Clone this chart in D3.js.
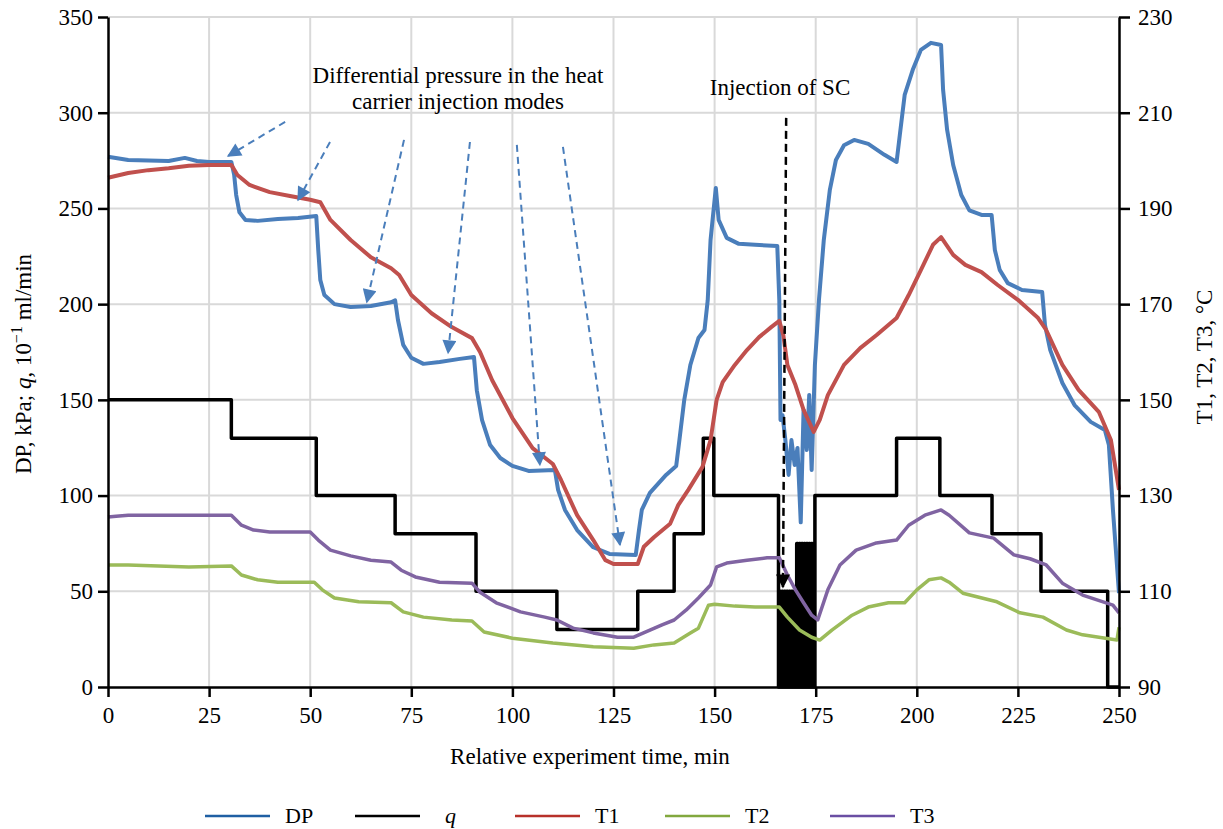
<!DOCTYPE html>
<html>
<head>
<meta charset="utf-8">
<script src="https://cdn.jsdelivr.net/npm/d3@7"></script>
<style>
  body { margin: 0; background: #fff; }
  svg { font-family: "Liberation Serif", "Times New Roman", serif; }
</style>
</head>
<body>
<div id="graph"></div>
<script>
// DP, kPa  [time min, value]
const dp = [
  [0,277],[5,275.3],[10,275],[15,274.8],[19,276.4],[22,274.8],[25,274.3],[30.5,274.3],
  [31.2,267.5],[31.7,257],[32.5,248],[34,244],[37,243.5],[42,244.5],[47,245],[51.5,246],
  [52,228],[52.5,212.6],[53.5,204.8],[56,200],[60,198.5],[65,199],[70,201],[71,202],
  [71.7,191.7],[73,178.7],[75,172],[78,168.8],[82,169.8],[87,171.4],[90.5,172.4],
  [91.2,155],[92.5,139.4],[94.5,126.4],[97,119.6],[100,115.5],[104,112.9],[110.5,113.4],
  [111.3,103],[113,92.5],[116,82],[120,73],[124,69.5],[130.5,69],
  [131.3,82],[132,92.5],[134,101.4],[138,110.8],[140.5,115.5],[141.3,129],[142.5,150],
  [144,168.2],[146,182.3],[147.5,186.5],[148.3,202],[149,233.5],[150.3,260.7],[151,244],
  [153,234.6],[156,231.5],[160,231],[165.5,230.4],[166,202],[166.3,139.5],[166.8,142],
  [167.5,129],[168.3,110.8],[169,129],[169.8,116],[170.5,124.9],[171.3,86],[172,144.7],
  [172.8,123.8],[173.4,152.6],[174,113.4],[174.8,168.2],[175.8,202],[177,233.5],
  [178.5,259.7],[180,275.3],[182,283],[184.5,285.8],[188,283.7],[192,278],[195,274.3],
  [195.8,288.4],[197,309.3],[199,322.4],[201,332.8],[203.5,336.5],[206,335.4],
  [206.5,312],[207.5,291],[209,272.7],[211,257],[213,249],[216,246.6],[218.5,246.6],
  [219.3,228.3],[220.5,217.9],[222.5,211],[226,207.4],[231,206.4],[231.7,189],[233,176],
  [236,158.8],[239,147.3],[243,138.5],[246.5,134.3],[247.5,126.4],[248.5,92.5],[250,49]
];

// q, 10^-1 ml/min (step)
const q = [
  [0,150],[30.5,130],[51.5,100],[71,80],[91,50],[111,30],[131,50],[140,80],[147.2,130],
  [149.8,100],[165.8,0],[166,50],[166.3,0],[166.6,50],[166.9,0],[167.2,50],[167.5,0],
  [167.8,50],[168.1,0],[168.4,50],[168.7,0],[169,50],[169.3,0],[169.6,50],[170,0],
  [170.3,75],[170.6,0],[170.9,75],[171.2,0],[171.5,75],[171.8,0],[172.1,75],[172.4,0],
  [172.7,75],[173,0],[173.3,75],[173.6,0],[173.9,75],[174.2,0],[174.8,100],[195,130],
  [205.7,100],[218.6,80],[230.7,50],[247.2,0],[250,0]
];

// T1, °C
const t1 = [
  [0,196.4],[5,197.4],[10,198],[15,198.4],[20,198.9],[25,199.1],[30.5,199.1],[32,197],
  [35,194.9],[40,193.4],[45,192.6],[50,191.8],[52.5,191.3],[55,187.6],[60,183.4],
  [65,179.8],[70,177.5],[72,176.1],[75,171.9],[80,168.1],[85,165.2],[90,162.9],[92,160],
  [95,154.1],[100,146.2],[105,139.9],[110,136.6],[112,133.3],[116,125.9],[120,120.7],
  [123,116.5],[125,115.7],[131,115.7],[132.5,119.3],[135,121.3],[139,124.1],[141,128],
  [143.5,131.2],[147,136],[149,141.6],[150.5,150],[152,153.7],[155,157.3],[158,160.4],
  [161,163.1],[164,165.2],[166,166.5],[167,163.5],[168,157.3],[170,153.1],[172,147.9],
  [174.5,143.3],[176,145.8],[178,151],[182,157.3],[186,160.8],[190,163.5],[195,167.1],
  [198,171.9],[201,177.1],[204,182.4],[206,184],[209,180.3],[212,178.2],[216,176.7],
  [220,174],[225,170.9],[230,167.1],[232,164.6],[236,157.3],[240,152.1],[245,147.5],
  [248,141.6],[250,131.2]
];

// T2, °C
const t2 = [
  [0,115.5],[5,115.5],[20,115.1],[30.5,115.3],[33,113.4],[37,112.4],[42,111.9],[51,111.9],
  [53,110.3],[56,108.6],[62,107.8],[70,107.6],[73,105.7],[78,104.6],[85,104],[90,103.8],
  [93,101.5],[100,100.2],[110,99.2],[120,98.4],[130,98.1],[135,98.8],[140,99.2],
  [144,101.3],[146,102.3],[148.5,107.1],[150,107.3],[155,106.9],[160,106.7],[166,106.7],
  [168,104.6],[171,101.9],[174,100.4],[176,99.8],[179,101.9],[184,105],[188,106.7],
  [193,107.6],[197,107.6],[200,110.3],[203,112.4],[206,112.8],[208,111.9],[211.4,109.6],
  [219.8,107.8],[225.5,105.5],[231.2,104.6],[237,101.9],[241,100.9],[249.5,99.8],[250,102.5]
];

// T3, °C
const t3 = [
  [0,125.5],[2,125.7],[5,125.9],[30.5,125.9],[33,123.8],[36,122.8],[40,122.4],[50,122.4],
  [52,120.7],[55,118.6],[60,117.4],[65,116.5],[70,116.1],[72.5,114.4],[76,113],[82,111.9],
  [90,111.7],[92,109.8],[96,107.6],[102,105.7],[108,104.6],[111,104],[115,102.3],
  [120,101.3],[126,100.4],[130,100.4],[133,101.5],[137,103],[140,104],[143,106.1],
  [146,108.6],[149,111.3],[150.5,115.1],[153,115.9],[158,116.5],[163,117],[166,117],
  [168,113.4],[170,110.3],[172,107.6],[174,105],[175.5,104],[178,110.3],[181,115.5],
  [185,118.6],[190,120.1],[195,120.7],[198,123.8],[202,125.9],[206,127],[208,125.9],
  [213,122.2],[219,121.1],[224,117.6],[228,116.8],[232,115.5],[236,111.7],[241,109.2],
  [248.5,107.1],[250,105.5]
];

const xTicks = [0, 25, 50, 75, 100, 125, 150, 175, 200, 225, 250];
const leftTicks = [0, 50, 100, 150, 200, 250, 300, 350];
const rightTicks = [90, 110, 130, 150, 170, 190, 210, 230];

// annotation arrows, in data units [t0, dp0, t1, dp1]
const pressureArrows = [
  [43.8, 295.2, 29.7, 277.4],
  [54.9, 284.7, 47, 254.4],
  [73.2, 285.8, 64, 201.1],
  [89.5, 284.7, 84.1, 174.5],
  [101.1, 283.2, 106.8, 116],
  [112.5, 282.1, 126.6, 74.2]
];
const scArrow = [167.7, 297.3, 166.9, 52.2];

const series = [
  { name: "DP", data: dp, axis: "left", color: "#4a7ebb", legend: "#1f5fa3", width: 4, step: false, italic: false },
  { name: "q", data: q, axis: "left", color: "#000000", legend: "#000000", width: 3.5, step: true, italic: true },
  { name: "T1", data: t1, axis: "right", color: "#c0504d", legend: "#b7312a", width: 4, step: false, italic: false },
  { name: "T2", data: t2, axis: "right", color: "#9bbb59", legend: "#82a83e", width: 3.5, step: false, italic: false },
  { name: "T3", data: t3, axis: "right", color: "#8064a2", legend: "#6a4ea3", width: 3.5, step: false, italic: false }
];

const width = 1223;
const height = 829;
const marginTop = 17;
const marginRight = 104;
const marginBottom = 142;
const marginLeft = 108;

const x = d3.scaleLinear().domain([0, 250]).range([marginLeft, width - marginRight]);
const yL = d3.scaleLinear().domain([0, 350]).range([height - marginBottom, marginTop]);
const yR = d3.scaleLinear().domain([90, 230]).range([height - marginBottom, marginTop]);

const svg = d3.create("svg")
  .attr("width", width)
  .attr("height", height)
  .attr("viewBox", `0 0 ${width} ${height}`);

const fontSize = 23;

// grid
svg.append("g")
  .selectAll("line")
  .data(xTicks.slice(1, -1))
  .join("line")
  .attr("x1", d => x(d)).attr("x2", d => x(d))
  .attr("y1", yL(0)).attr("y2", yL(350))
  .attr("stroke", "#d9d9d9").attr("stroke-width", 2);

svg.append("g")
  .selectAll("line")
  .data(leftTicks.slice(1))
  .join("line")
  .attr("x1", x(0)).attr("x2", x(250))
  .attr("y1", d => yL(d)).attr("y2", d => yL(d))
  .attr("stroke", "#d9d9d9").attr("stroke-width", 2);

// arrowheads
const defs = svg.append("defs");
[["arrowBlue", "#4a7ebb"], ["arrowBlack", "#000"]].forEach(([id, c]) => {
  defs.append("marker")
    .attr("id", id)
    .attr("viewBox", "0 0 10 10")
    .attr("refX", 9).attr("refY", 5)
    .attr("markerWidth", 16).attr("markerHeight", 14)
    .attr("markerUnits", "userSpaceOnUse")
    .attr("orient", "auto")
    .append("path")
    .attr("d", "M0,0 L10,5 L0,10 Z")
    .attr("fill", c);
});

// lines
const lineFor = s => {
  const yS = s.axis === "left" ? yL : yR;
  return d3.line()
    .x(d => x(d[0]))
    .y(d => yS(d[1]))
    .curve(s.step ? d3.curveStepAfter : d3.curveLinear);
};

svg.append("g")
  .selectAll("path")
  .data(series)
  .join("path")
  .attr("d", s => lineFor(s)(s.data))
  .attr("fill", "none")
  .attr("stroke", s => s.color)
  .attr("stroke-width", s => s.width)
  .attr("stroke-linejoin", "round");

// annotations
svg.append("g")
  .selectAll("line")
  .data(pressureArrows)
  .join("line")
  .attr("x1", d => x(d[0])).attr("y1", d => yL(d[1]))
  .attr("x2", d => x(d[2])).attr("y2", d => yL(d[3]))
  .attr("stroke", "#4a7ebb")
  .attr("stroke-width", 2)
  .attr("stroke-dasharray", "7,5")
  .attr("marker-end", "url(#arrowBlue)");

svg.append("line")
  .attr("x1", x(scArrow[0])).attr("y1", yL(scArrow[1]))
  .attr("x2", x(scArrow[2])).attr("y2", yL(scArrow[3]))
  .attr("stroke", "#000")
  .attr("stroke-width", 2.5)
  .attr("stroke-dasharray", "8,5")
  .attr("marker-end", "url(#arrowBlack)");

const note = svg.append("text")
  .attr("x", 458)
  .attr("y", 83)
  .attr("text-anchor", "middle")
  .style("font-size", fontSize + "px");
note.append("tspan").attr("x", 458).text("Differential pressure in the heat");
note.append("tspan").attr("x", 458).attr("dy", 26).text("carrier injection modes");

svg.append("text")
  .attr("x", 780)
  .attr("y", 95)
  .attr("text-anchor", "middle")
  .style("font-size", fontSize + "px")
  .text("Injection of SC");

// axes
const styleAxis = g => {
  g.attr("font-family", null);
  g.select(".domain").attr("stroke", "#000").attr("stroke-width", 2.5);
  g.selectAll(".tick line").attr("stroke", "#000").attr("stroke-width", 2.5);
  g.selectAll(".tick text").style("font-size", fontSize + "px").attr("fill", "#000")
    .style("font-family", "'Liberation Serif', serif");
};

svg.append("g")
  .attr("transform", `translate(0, ${height - marginBottom})`)
  .call(d3.axisBottom(x).tickValues(xTicks).tickSize(10).tickPadding(10).tickSizeOuter(0))
  .call(styleAxis);

svg.append("g")
  .attr("transform", `translate(${marginLeft}, 0)`)
  .call(d3.axisLeft(yL).tickValues(leftTicks).tickSize(10).tickPadding(5).tickSizeOuter(0))
  .call(styleAxis);

svg.append("g")
  .attr("transform", `translate(${width - marginRight}, 0)`)
  .call(d3.axisRight(yR).tickValues(rightTicks).tickSize(11).tickPadding(8).tickSizeOuter(0))
  .call(styleAxis);

// axis titles
svg.append("text")
  .attr("x", 590)
  .attr("y", 764)
  .attr("text-anchor", "middle")
  .style("font-size", fontSize + "px")
  .text("Relative experiment time, min");

const leftTitle = svg.append("text")
  .attr("transform", "translate(31, 364) rotate(-90)")
  .attr("text-anchor", "middle")
  .style("font-size", fontSize + "px");
leftTitle.append("tspan").text("DP, kPa; ");
leftTitle.append("tspan").style("font-style", "italic").text("q");
leftTitle.append("tspan").text(", 10");
leftTitle.append("tspan").attr("dy", -9).style("font-size", "16px").text("\u22121");
leftTitle.append("tspan").attr("dy", 9).text(" ml/min");

svg.append("text")
  .attr("transform", "translate(1212, 357) rotate(-90)")
  .attr("text-anchor", "middle")
  .style("font-size", fontSize + "px")
  .text("T1, T2, T3, \u00b0C");

// legend
const legendX = [205, 355, 515, 665, 830];
const legend = svg.append("g")
  .selectAll("g")
  .data(series)
  .join("g")
  .attr("transform", (d, i) => `translate(${legendX[i]}, 816)`);

legend.append("line")
  .attr("x1", 0).attr("x2", 65)
  .attr("stroke", d => d.legend)
  .attr("stroke-width", 2.5);

legend.append("text")
  .attr("x", (d, i) => i === 1 ? 90 : 80)
  .attr("y", 7)
  .style("font-size", "22px")
  .style("font-style", d => d.italic ? "italic" : "normal")
  .text(d => d.name);

document.getElementById("graph").append(svg.node());
</script>
</body>
</html>
